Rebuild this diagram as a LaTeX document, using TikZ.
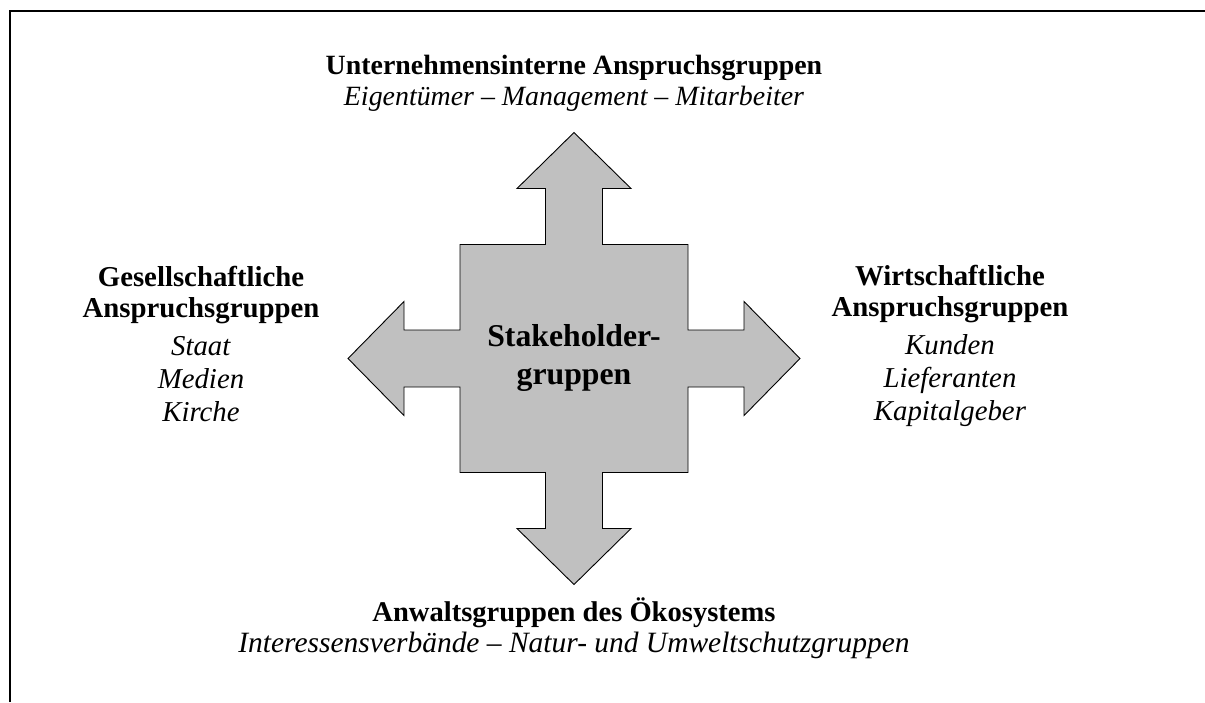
\documentclass[tikz,border=0pt]{standalone}
\usepackage{fontspec}
\setmainfont{Liberation Serif}
\definecolor{stakegray}{RGB}{192,192,192}
\tikzset{
  gruppe/.style={align=center,font=\fontsize{12.3}{13.8}\selectfont,inner sep=0pt},
  seite/.style={align=center,font=\fontsize{12.7}{13.6}\selectfont,inner sep=0pt},
  unten/.style={align=center,font=\fontsize{13}{13.8}\selectfont,inner sep=0pt},
  mitte/.style={align=center,font=\fontsize{14}{16.7}\selectfont\bfseries,inner sep=0pt}
}
\begin{document}
\begin{tikzpicture}[x=0.0155cm,y=-0.0155cm]
        \useasboundingbox (0,0) rectangle (1205,702);
        \draw[line width=0.9pt] (10,702)--(10,11)--(1205,11);

        % Kreuz mit vier Pfeilen
        \draw[fill=stakegray,thin] (574,132.5)--(631,188.5)--(602.5,188.5)--(602.5,244.5)
            --(688,244.5)--(688,330)--(744,330)--(744,301.5)--(800,358.5)--(744,415.5)
            --(744,387)--(688,387)--(688,472.5)--(602.5,472.5)--(602.5,528.5)--(631,528.5)
            --(574,584.5)--(517,528.5)--(545.5,528.5)--(545.5,472.5)--(460,472.5)--(460,387)
            --(404,387)--(404,415.5)--(348,358.5)--(404,301.5)--(404,330)--(460,330)
            --(460,244.5)--(545.5,244.5)--(545.5,188.5)--(517,188.5)--cycle;
        \node[mitte] (stake) at (574,358) {Stakeholder-\\gruppen};

        \node[gruppe] (intern) at (574,83) {\textbf{Unternehmensinterne Anspruchsgruppen}\\
            \textit{Eigentümer – Management – Mitarbeiter}};
        \node[seite] (gesell) at (201,344) {\textbf{Gesellschaftliche}\\
            \textbf{Anspruchsgruppen}\\[3.1pt] \textit{Staat}\\[0.9pt] \textit{Medien}\\[0.9pt] \textit{Kirche}};
        \node[seite] (wirt) at (950,346) {\textbf{Wirtschaftliche}\\
            \textbf{Anspruchsgruppen}\\[3.1pt] \textit{Kunden}\\[0.9pt] \textit{Lieferanten}\\[0.9pt] \textit{Kapitalgeber}};
        \node[unten] (anwalt) at (574,628) {\textbf{\fontsize{12.6}{13.8}\selectfont Anwaltsgruppen des Ökosystems}\\
            \textit{Interessensverbände – Natur- und Umweltschutzgruppen}};
\end{tikzpicture}
\end{document}
